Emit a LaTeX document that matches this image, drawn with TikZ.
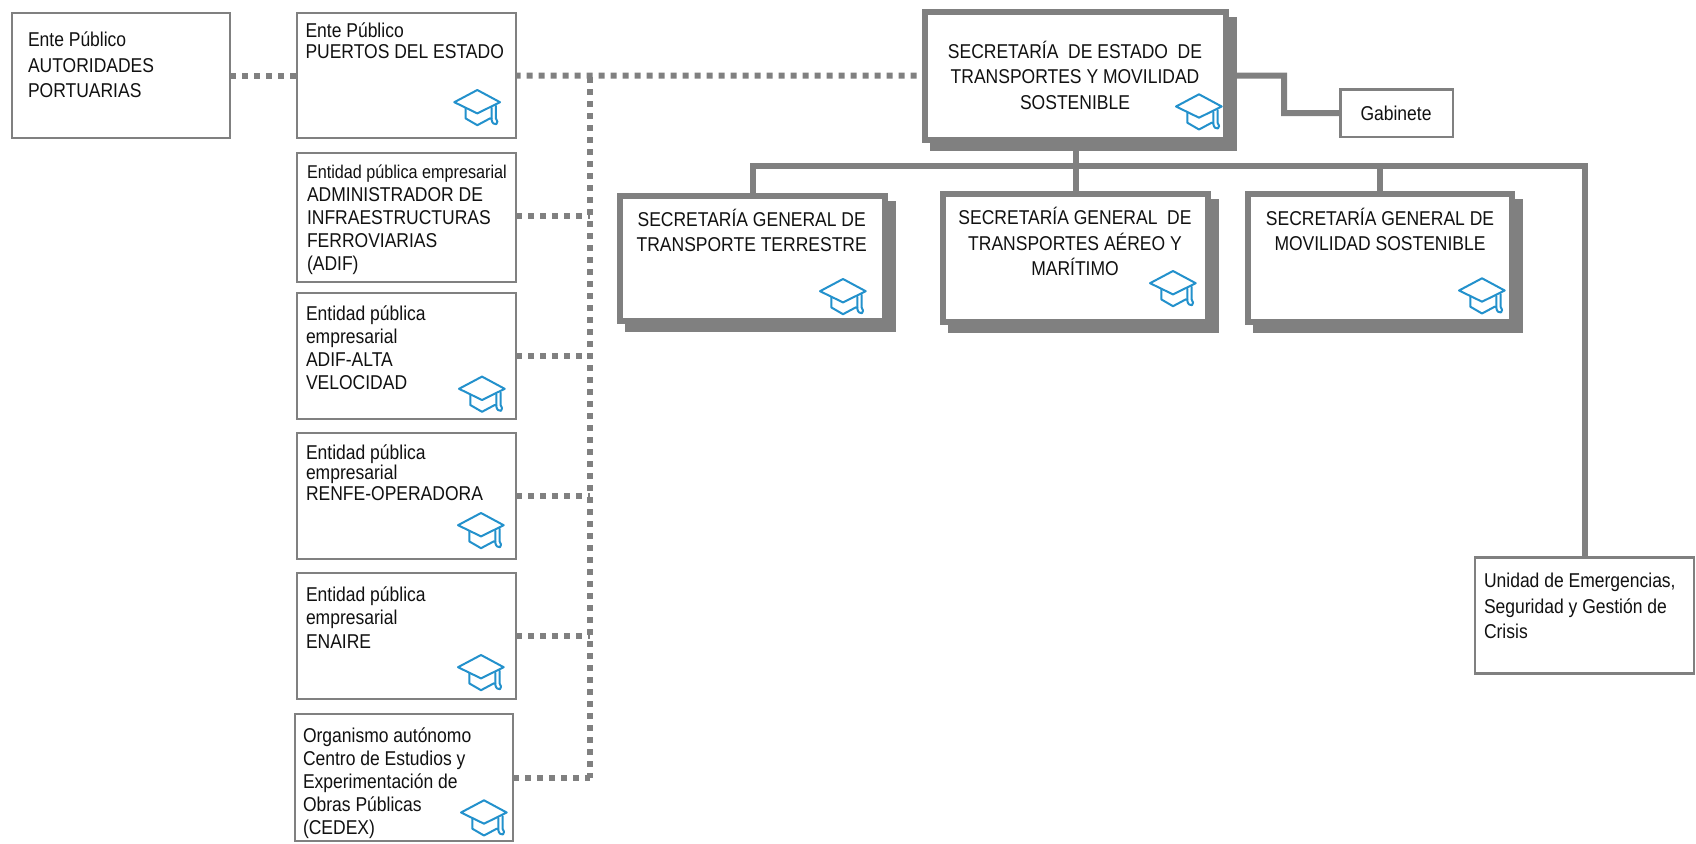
\documentclass[tikz,border=0pt]{standalone}
\usepackage{fontspec}
\setmainfont[FakeStretch=0.875]{Liberation Sans}
\usetikzlibrary{shadows}
\definecolor{linegray}{HTML}{808080}
\definecolor{hatblue}{HTML}{2391CC}
\definecolor{inkblack}{HTML}{111111}
\newcommand{\fs}[1]{\fontsize{20}{#1}\selectfont}
\tikzset{
  thinbox/.style={draw=linegray,line width=2.8pt,fill=white,rectangle,inner sep=0pt,outer sep=0pt,anchor=north west},
  heavybox/.style={draw=linegray,line width=6pt,fill=white,rectangle,inner sep=0pt,outer sep=0pt,anchor=north west,
    copy shadow={shadow xshift=8pt,shadow yshift=-8pt,draw=linegray,fill=linegray}},
  conn/.style={draw=linegray,line width=6pt},
  dots/.style={draw=linegray,line width=6pt,dash pattern=on 6pt off 6pt},
  lefttext/.style={inner sep=0pt,outer sep=0pt,anchor=base west,align=left,text=inkblack},
  midtext/.style={inner sep=0pt,outer sep=0pt,anchor=base,align=center,text=inkblack},
  hat/.pic={
    \begin{scope}[draw=hatblue,line width=2pt,line join=round,line cap=round]
      \draw (-23,-5.5) -- (0,-17.7) -- (22.7,-5.5) -- (0,5.7) -- cycle;
      \draw (-11.7,0.5) -- (-11.7,10.7) -- (0,17.5) -- (12.7,10.7) -- (14.3,11);
      \draw (14.3,0) -- (14.3,12) .. controls (14.8,15.5) and (17,17) .. (19,16.5) .. controls (21,15.5) and (20,12.5) .. (18.5,10.5) -- (18.5,-2);
    \end{scope}
  }
}
\begin{document}
\begin{tikzpicture}[x=1pt,y=-1pt]
\useasboundingbox (0,0) rectangle (1696,843);
% boxes
\node[thinbox,minimum width=218pt,minimum height=125pt] (A) at (12,13) {};
\node[thinbox,minimum width=219pt,minimum height=125pt] (B) at (297,13) {};
\node[thinbox,minimum width=219pt,minimum height=129pt] (C) at (297,153) {};
\node[thinbox,minimum width=219pt,minimum height=126pt] (D) at (297,293) {};
\node[thinbox,minimum width=219pt,minimum height=126pt] (E) at (297,433) {};
\node[thinbox,minimum width=219pt,minimum height=126pt] (F) at (297,573) {};
\node[thinbox,minimum width=218pt,minimum height=127pt] (G) at (295,714) {};
\node[heavybox,minimum width=301.6pt,minimum height=128pt] (main) at (924.7,11.7) {};
\node[heavybox,minimum width=264.7pt,minimum height=125.6pt] (T) at (620.3,195.7) {};
\node[heavybox,minimum width=264.4pt,minimum height=128pt] (M) at (943.3,194.3) {};
\node[heavybox,minimum width=264.3pt,minimum height=128pt] (R) at (1248,194.3) {};
\node[thinbox,minimum width=112.3pt,minimum height=47.7pt] (gab) at (1340.7,89.3) {};
\node[thinbox,minimum width=219pt,minimum height=116pt] (U) at (1475,557.3) {};
% connector junctions
\coordinate (trunkTop) at (590,75.5);
\coordinate (trunkBot) at (590,777.5);
\coordinate (bus) at (1075.5,166);
\coordinate (elbow) at (1284,75.6);
% dotted connectors
\draw[dots] (A.east) -- (B.west);
\draw[dots,dash phase=1.3pt] (B.east) -- (main.west);
\draw[dots,dash phase=10.5pt] (trunkTop) -- (trunkBot);
\draw[dots] ([yshift=2pt]C.east) -- ([yshift=2pt]C.east -| trunkTop);
\draw[dots] (D.east) -- (D.east -| trunkTop);
\draw[dots] (E.east) -- (E.east -| trunkTop);
\draw[dots] (F.east) -- (F.east -| trunkTop);
\draw[dots] (G.east) -- (G.east -| trunkTop);
% solid connectors
\draw[conn] (T.north) |- (bus) -| (U.north);
\draw[conn] (main.south) -- (M.north);
\draw[conn] (R.north) -- (R.north |- bus);
\draw[conn] (main.east) -- (elbow) |- (gab.west);
% texts
\node[lefttext,font=\fs{25.5}] (tA) at (28,97.7) {Ente Público\\AUTORIDADES\\PORTUARIAS};
\node[lefttext,font=\fs{21.3}] (tB) at (305.5,59) {Ente Público\\PUERTOS DEL ESTADO};
\node[lefttext,font=\fs{23}] (tC) at (307,270) {{\fontsize{18.5}{23}\selectfont Entidad pública empresarial}\\ADMINISTRADOR DE\\INFRAESTRUCTURAS\\FERROVIARIAS\\(ADIF)};
\node[lefttext,font=\fs{23}] (tD) at (306,389) {Entidad pública\\empresarial\\ADIF-ALTA\\VELOCIDAD};
\node[lefttext,font=\fs{20.5}] (tE) at (306,500) {Entidad pública\\empresarial\\RENFE-OPERADORA};
\node[lefttext,font=\fs{23.5}] (tF) at (306,648) {Entidad pública\\empresarial\\ENAIRE};
\node[lefttext,font=\fs{23}] (tG) at (303,834) {Organismo autónomo\\Centro de Estudios y\\Experimentación de\\Obras Públicas\\(CEDEX)};
\node[midtext,font=\fs{25.5}] (tmain) at (1075,109) {SECRETARÍA~ DE ESTADO~ DE\\TRANSPORTES Y MOVILIDAD\\SOSTENIBLE};
\node[midtext,font=\fs{25.4}] (tT) at (751.7,251.7) {SECRETARÍA GENERAL DE\\TRANSPORTE TERRESTRE};
\node[midtext,font=\fs{25.4}] (tM) at (1075,275.7) {SECRETARÍA GENERAL~ DE\\TRANSPORTES AÉREO Y\\MARÍTIMO};
\node[midtext,font=\fs{25}] (tR) at (1380,250) {SECRETARÍA GENERAL DE\\MOVILIDAD SOSTENIBLE};
\node[midtext,font=\fs{24}] (tgab) at (1396,120) {Gabinete};
\node[lefttext,font=\fs{25.4}] (tU) at (1484,638.7) {Unidad de Emergencias,\\Seguridad y Gestión de\\Crisis};
% hats
\pic at (477.3,107.7) {hat};
\pic at (482,394.3) {hat};
\pic at (481,530.7) {hat};
\pic at (481,672.7) {hat};
\pic at (484,818) {hat};
\pic at (1199,112) {hat};
\pic at (843,296.7) {hat};
\pic at (1173,288.7) {hat};
\pic at (1482,296) {hat};
\end{tikzpicture}
\end{document}
